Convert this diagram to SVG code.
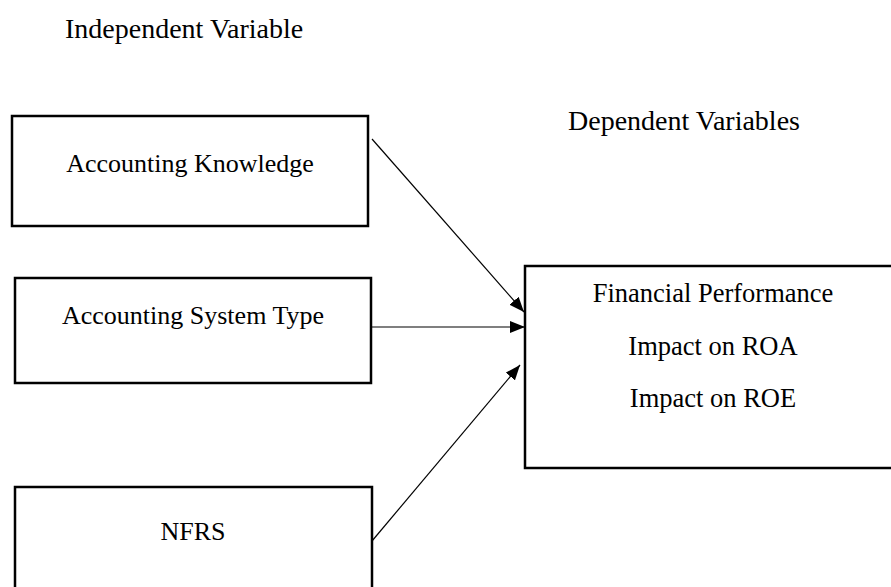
<svg xmlns="http://www.w3.org/2000/svg" width="891" height="587" viewBox="0 0 891 587">
<style>
.box{fill:#fff;stroke:#000;stroke-width:2.5}
.t{font-family:"Liberation Serif","Times New Roman",serif;font-size:26px;fill:#000;text-anchor:middle}
.t2{font-family:"Liberation Serif","Times New Roman",serif;font-size:26.5px;fill:#000;text-anchor:middle}
.h{font-family:"Liberation Serif","Times New Roman",serif;font-size:28px;fill:#000}
.c{stroke:#000;stroke-width:1.2;fill:none;marker-end:url(#ah)}
</style>
<defs>
<marker id="ah" markerUnits="userSpaceOnUse" markerWidth="16" markerHeight="12" refX="15" refY="6" orient="auto">
<path d="M0,0 L15,6 L0,12 z" fill="#000"/>
</marker>
</defs>
<rect width="891" height="587" fill="#fff"/>
<text class="h" x="65" y="38">Independent Variable</text>
<text class="h" x="568" y="130">Dependent Variables</text>
<g id="n1"><rect class="box" x="12" y="116" width="356" height="110"/><text class="t" x="190" y="172">Accounting Knowledge</text></g>
<g id="n2"><rect class="box" x="15" y="278" width="356" height="105"/><text class="t" x="193" y="324">Accounting System Type</text></g>
<g id="n3"><rect class="box" x="15" y="487" width="357" height="120"/><text class="t" x="193" y="540">NFRS</text></g>
<g id="n4"><rect class="box" x="525" y="266" width="380" height="202"/>
<text class="t2" x="713" y="302">Financial Performance</text>
<text class="t2" x="713" y="355">Impact on ROA</text>
<text class="t2" x="713" y="407">Impact on ROE</text></g>
<g id="connectors">
<line class="c" x1="372" y1="139" x2="524" y2="312"/>
<line class="c" x1="371" y1="327" x2="525" y2="327"/>
<line class="c" x1="372" y1="541" x2="520" y2="365"/>
</g>
</svg>
